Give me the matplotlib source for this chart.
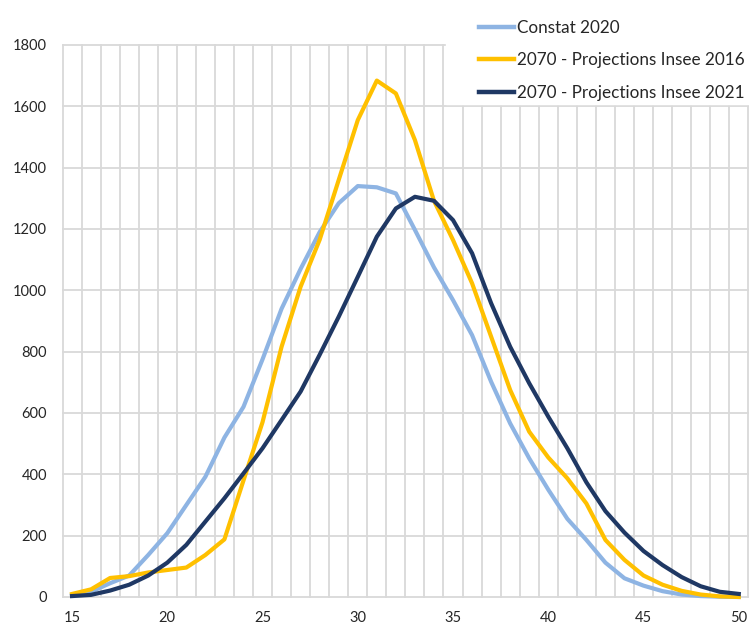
import matplotlib.pyplot as plt
from matplotlib.patches import Rectangle
import numpy as np

ages = list(range(15, 51))

constat_2020 = [6, 17, 45, 70, 137, 208, 300, 392, 520, 620,
                775, 940, 1070, 1190, 1284, 1340, 1336, 1316, 1197, 1075,
                968, 854, 702, 566, 452, 350, 255, 186, 112, 61,
                37, 19, 8, 3, 1, 0]
insee_2016 = [10, 25, 62, 68, 80, 88, 96, 137, 188, 380,
              570, 816, 1012, 1165, 1360, 1555, 1684, 1642, 1490, 1292,
              1164, 1023, 849, 675, 539, 455, 387, 305, 186, 121,
              70, 40, 20, 8, 2, 0]
insee_2021 = [3, 7, 21, 40, 70, 112, 170, 246, 322, 403,
              485, 577, 670, 790, 914, 1044, 1175, 1267, 1305, 1292,
              1229, 1121, 958, 816, 697, 588, 485, 374, 280, 210,
              150, 104, 65, 35, 17, 10]

labels = ["Constat 2020", "2070 - Projections Insee 2016", "2070 - Projections Insee 2021"]
colors = ["#8EB4E3", "#FFC000", "#1F3864"]

plt.rcParams["font.family"] = ["Lato", "DejaVu Sans"]

W, H = 749, 626
fig = plt.figure(figsize=(W / 100, H / 100), dpi=100)
ax = fig.add_axes([62.5 / W, 1 - 597 / H, (748.3 - 62.5) / W, (597 - 45) / H])

grid_c = "#D9D9D9"
for v in np.arange(14.5, 51, 1):
    ax.axvline(v, color=grid_c, lw=1.3, zorder=0, clip_on=False)
for h in range(0, 1801, 200):
    ax.axhline(h, color=grid_c, lw=1.3, zorder=0, clip_on=False)

for ys, lab, col in zip([constat_2020, insee_2016, insee_2021], labels, colors):
    ax.plot(ages, ys, color=col, lw=3.0, label=lab, clip_on=False, zorder=3,
            solid_joinstyle="round")

ax.set_xlim(14.5, 50.5)
ax.set_ylim(0, 1800)
ax.set_xticks(range(15, 51, 5))
ax.set_yticks(range(0, 1801, 200))
ax.tick_params(length=0, labelsize=10.5, colors="#262626")
ax.tick_params(axis="y", pad=11)
ax.tick_params(axis="x", pad=10)
for s in ax.spines.values():
    s.set_visible(False)

# white legend area over the top-right of the plot
fig.add_artist(Rectangle((446 / W, 1 - 104 / H), 1, 104 / H,
                         transform=fig.transFigure, color="white", zorder=1))

leg = fig.legend(loc="upper left", bbox_to_anchor=(470 / W, 1 - 11 / H),
                 frameon=False, fontsize=12.3, handlelength=2.05,
                 handletextpad=0.2, labelspacing=0.97, borderpad=0)
leg.set_zorder(5)
for line in leg.get_lines():
    line.set_linewidth(3.2)
for t in leg.get_texts():
    t.set_color("#262626")

fig.savefig("out.png", dpi=100)
